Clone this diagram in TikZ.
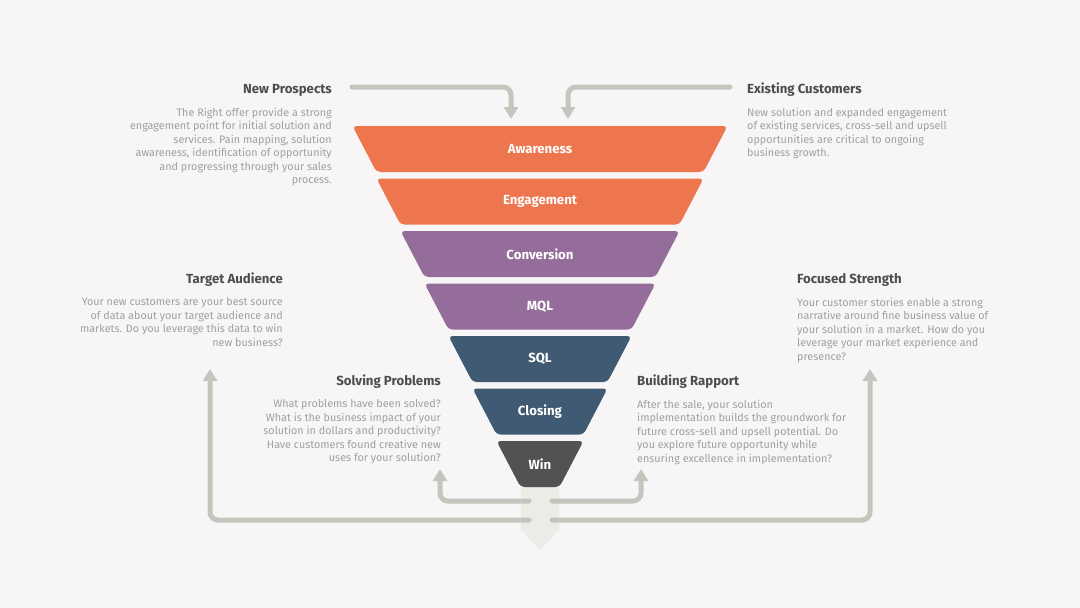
\documentclass[tikz,border=0pt]{standalone}
\usepackage{fontspec}
\setmainfont{Fira Sans}
\usepackage{tikz}
\usetikzlibrary{
  arrows.meta,
  calc,
  positioning
}
\definecolor{PageBg}{RGB}{247,245,246}
\definecolor{FunOrange}{RGB}{238,118,78}
\definecolor{FunPurple}{RGB}{149,109,154}
\definecolor{FunSlate}{RGB}{63,90,114}
\definecolor{FunDark}{RGB}{82,82,82}
\definecolor{FlowGrey}{RGB}{197,197,190}
\definecolor{FlowLight}{RGB}{236,236,230}
\definecolor{HeadText}{RGB}{77,77,77}
\definecolor{BodyText}{RGB}{160,160,160}

\begin{document}
\begin{tikzpicture}[
  x=1pt, y=-1pt,
  stage/.style={text=white, font=\fontsize{13.2}{15}\selectfont\bfseries, inner sep=0pt},
  head/.style={text=HeadText, font=\fontsize{13.2}{15}\selectfont\bfseries, inner sep=0pt},
  body/.style={text=BodyText, font=\fontsize{10.8}{13.5}\selectfont, inner sep=0pt},
  flow/.style={draw=FlowGrey, line width=5pt, line cap=round, rounded corners=8pt,
    -{Triangle[length=12pt, width=14pt]}},
]
  % page
  \fill[PageBg] (0,0) rectangle (1080,608);

  % outlet under the funnel
  \fill[FlowLight] (521,487) -- (559,487) -- (559,530) -- (540,550) -- (521,530) -- cycle;

  % funnel stages
  \foreach \i/\nm/\lab/\col in {0/aware/Awareness/FunOrange, 1/engage/Engagement/FunOrange,
      2/convert/Conversion/FunPurple, 3/mql/MQL/FunPurple, 4/sql/SQL/FunSlate,
      5/closing/Closing/FunSlate, 6/win/Win/FunDark} {
    \pgfmathsetmacro{\ytop}{126+52.5*\i}
    \pgfmathsetmacro{\hw}{187.5-24*\i}
    \fill[\col, rounded corners=4pt] (540-\hw,\ytop) -- (540+\hw,\ytop)
      -- (540+\hw-24,\ytop+46) -- (540-\hw+24,\ytop+46) -- cycle;
    \node[stage] (\nm) at (540,\ytop+23) {\lab};
  }

  % inflow arrows
  \coordinate (prospIn) at (352,87);
  \coordinate (prospTip) at (511,119);
  \coordinate (custIn) at (730,87);
  \coordinate (custTip) at (568,119);
  \draw[flow] (prospIn) -| (prospTip);
  \draw[flow] (custIn) -| (custTip);

  % feedback arrows
  \coordinate (outL) at (529,520);
  \coordinate (outR) at (552,520);
  \coordinate (innerL) at (529,501);
  \coordinate (innerR) at (552,501);
  \coordinate (audTip) at (210,369);
  \coordinate (strTip) at (870,369);
  \coordinate (solveTip) at (440,469);
  \coordinate (rappTip) at (641,469);
  \draw[flow] (outL) -| (audTip);
  \draw[flow] (outR) -| (strTip);
  \draw[flow] (innerL) -| (solveTip);
  \draw[flow] (innerR) -| (rappTip);

  % text blocks
  \node[head, anchor=base east] (prospHead) at (332,93.5) {New Prospects};
  \node[body, align=right, below left=11pt and 0pt of prospHead.south east] (prospText)
    {The Right offer provide a strong\\engagement point for initial solution and\\services. Pain mapping, solution\\awareness, identification of opportunity\\and progressing through your sales\\process.};

  \node[head, anchor=base west] (custHead) at (747,93.5) {Existing Customers};
  \node[body, align=left, below right=11pt and 0pt of custHead.south west] (custText)
    {New solution and expanded engagement\\of existing services, cross-sell and upsell\\opportunities are critical to ongoing\\business growth.};

  \node[head, anchor=base east] (audHead) at (283,283.5) {Target Audience};
  \node[body, align=right, below left=11pt and 0pt of audHead.south east] (audText)
    {Your new customers are your best source\\of data about your target audience and\\markets. Do you leverage this data to win\\new business?};

  \node[head, anchor=base west] (strHead) at (797,283.5) {Focused Strength};
  \node[body, align=left, below right=11pt and 0pt of strHead.south west] (strText)
    {Your customer stories enable a strong\\narrative around fine business value of\\your solution in a market. How do you\\leverage your market experience and\\presence?};

  \node[head, anchor=base east] (solveHead) at (441,385.5) {Solving Problems};
  \node[body, align=right, below left=11pt and 0pt of solveHead.south east] (solveText)
    {What problems have been solved?\\What is the business impact of your\\solution in dollars and productivity?\\Have customers found creative new\\uses for your solution?};

  \node[head, anchor=base west] (rappHead) at (637,385.5) {Building Rapport};
  \node[body, align=left, below right=11pt and 0pt of rappHead.south west] (rappText)
    {After the sale, your solution\\implementation builds the groundwork for\\future cross-sell and upsell potential. Do\\you explore future opportunity while\\ensuring excellence in implementation?};
\end{tikzpicture}
\end{document}
